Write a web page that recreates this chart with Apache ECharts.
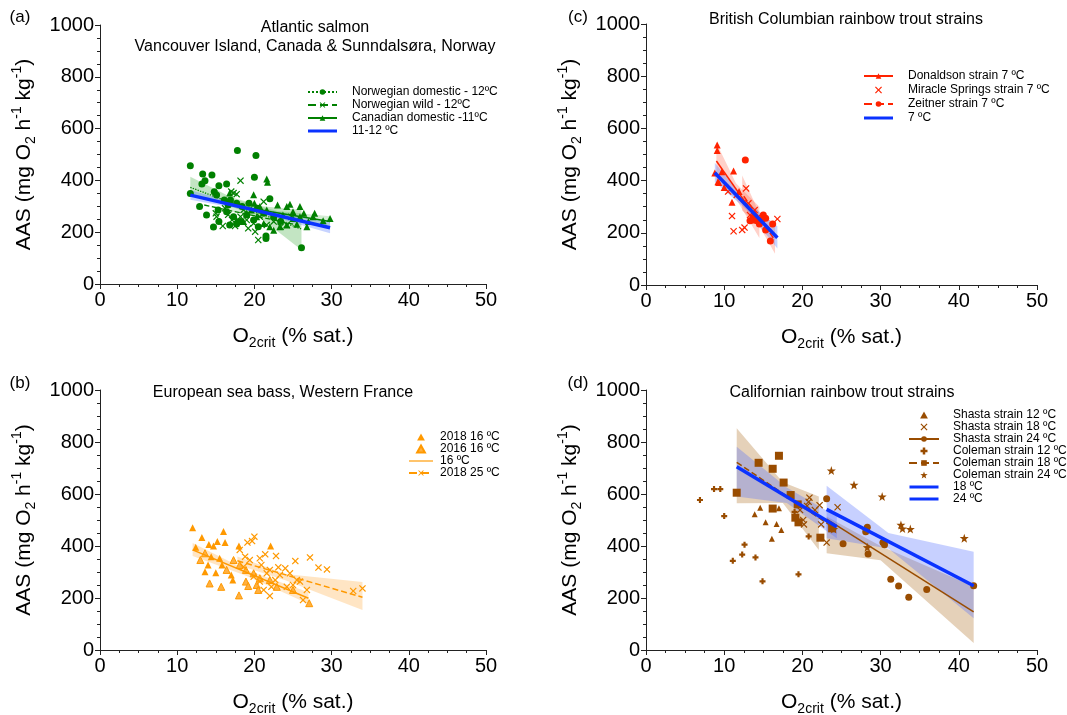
<!DOCTYPE html>
<html><head><meta charset="utf-8">
<script src="https://cdn.jsdelivr.net/npm/echarts@6/dist/echarts.min.js"></script>
<style>html,body{margin:0;padding:0;background:#fff}#c{width:1067px;height:715px}</style>
</head><body><div id="c"></div>
<script>
// ---------- axis ticks ----------
const X_TICKS = [0, 10, 20, 30, 40, 50];
const Y_TICKS = [0, 200, 400, 600, 800, 1000];

// ---------- (a) Atlantic salmon ----------
const A_NOR_DOM = [[17.8,515],[20.2,496],[11.7,457],[13.3,425],[14.5,421],[20.0,412],[13.6,399],[13.2,386],[15.4,379],[16.4,386],[11.7,349],[12.9,299],[13.8,266],[14.7,220],[15.4,241],[21.5,185],[21.5,176],[26.1,140],[22.0,329],[14.8,356],[16.9,324],[16.1,324],[16.6,305],[17.7,312],[15.3,286],[16.4,279],[17.3,260],[18.2,241],[19.0,266],[19.9,247],[20.5,221],[16.8,228],[17.7,232],[15.1,344],[18.4,299],[19.3,312],[20.4,292],[21.2,273],[22.5,260],[23.4,241]];
const A_NOR_WILD = [[18.2,399],[17.0,357],[17.7,347],[15.0,273],[15.1,260],[15.9,224],[17.5,224],[20.1,202],[20.5,170],[21.2,318],[18.2,260],[19.0,247],[19.9,234],[16.6,267],[18.6,286],[21.6,228],[22.5,241],[19.2,215],[17.1,247],[17.3,351],[16.2,292],[20.7,260],[23.4,221],[24.2,228],[24.8,260]];
const A_CAN_DOM = [[21.6,405],[21.7,393],[19.9,345],[20.0,312],[23.0,305],[24.6,308],[24.2,299],[26.4,273],[27.8,273],[29.8,253],[25.9,260],[25.0,279],[23.7,266],[22.5,266],[21.6,286],[20.7,299],[24.2,228],[25.5,231],[26.8,221],[27.0,241],[23.3,221],[22.0,221],[21.2,234],[20.3,260],[19.0,273],[17.7,247],[18.6,241],[25.0,253],[27.6,260],[28.9,244],[25.9,299],[22.5,208],[16.8,351],[19.6,286]];
const A_FIT_NOR_DOM = [[11.7,373],[26.1,212]];
const A_FIT_NOR_WILD = [[13.5,305],[25.5,228]];
const A_FIT_CAN_DOM = [[16.8,305],[29.8,241]];
const A_FIT_ALL = [[11.7,343],[29.8,217]];
const A_BAND_NOR_DOM = [[11.7,345,414],[17,300,335],[21,250,300],[26.1,131,286]];
const A_BAND_CAN = [[16.8,280,330],[23,262,282],[29.8,220,262]];
const A_BAND_ALL = [[11.7,325,362],[20,280,294],[29.8,196,240]];

// ---------- (b) European sea bass ----------
const B_2018_16 = [[12.0,470],[13.2,433],[16.0,456],[15.2,417],[16.2,413],[14.1,406],[14.7,400],[12.4,395],[18.0,400],[22.1,400],[14.4,359],[15.5,353],[14.0,327],[15.8,327],[13.6,301],[15.0,297],[17.0,288],[17.2,269]];
const B_2016_16 = [[14.2,256],[15.7,243],[18.9,263],[19.2,246],[20.3,250],[20.5,231],[18.0,210],[17.3,346],[18.1,327],[18.9,308],[19.9,295],[20.7,276],[22.0,269],[22.9,243],[25.0,231],[27.1,180],[13.6,372],[13.0,346],[16.4,308]];
const B_2018_25 = [[20.0,436],[19.1,413],[19.7,419],[18.1,385],[21.4,368],[22.8,362],[25.3,342],[27.2,356],[28.3,317],[29.4,310],[32.8,227],[34.0,237],[20.7,353],[19.4,346],[18.8,359],[20.9,327],[22.0,308],[23.1,318],[24.0,314],[23.3,288],[21.6,295],[25.5,269],[25.9,263],[25.0,250],[22.2,243],[21.2,231],[22.0,208],[26.3,192],[26.8,231],[24.2,243],[22.7,269],[19.9,282],[18.6,320],[24.6,295],[20.7,263]];
const B_FIT_16 = [[12.0,385],[27.0,199]];
const B_FIT_25 = [[17.8,343],[34.0,203]];
const B_BAND_16 = [[12.0,362,412],[19,285,308],[27.0,178,222]];
const B_BAND_25 = [[17.8,328,360],[24,268,292],[34.0,154,262]];

// ---------- (c) British Columbian rainbow trout ----------
const C_DON = [[9.1,536],[9.1,515],[9.7,434],[11.2,437],[9.3,393],[10.0,374],[11.0,317],[11.9,358],[13.7,249],[13.7,268],[8.8,429],[9.2,396]];
const C_MIR = [[12.8,370],[11.0,264],[11.2,206],[12.3,211],[12.6,220],[10.5,358],[13.1,313],[13.9,287],[16.8,253],[11.6,345],[13.3,268],[14.4,262]];
const C_ZEI = [[12.7,479],[15.0,268],[15.3,256],[16.2,234],[15.3,211],[15.9,169],[14.5,234],[13.3,246],[13.7,258],[14.8,249],[14.2,246]];
const C_FIT_DON = [[9.0,475],[14.5,240]];
const C_FIT_ZEI = [[12.5,340],[16.3,180]];
const C_FIT_ALL = [[8.8,430],[16.8,181]];
const C_BAND_DON = [[9.0,400,545],[11.5,330,390],[14.5,180,300]];
const C_BAND_ZEI = [[12.3,285,420],[14.5,225,275],[16.5,120,235]];
const C_BAND_ALL = [[8.8,395,468],[12.8,290,322],[16.8,140,225]];

// ---------- (d) Californian rainbow trout ----------
const D_SH12 = [[14.6,547],[13.9,522],[15.3,491],[16.7,485],[17.3,462],[16.1,428],[17.0,545]];
const D_SH18 = [[20.9,586],[20.8,570],[22.2,557],[21.6,538],[20.1,500],[20.2,483],[22.4,483],[23.1,413],[24.5,549],[20.6,554],[19.7,538]];
const D_SH24 = [[23.1,582],[25.2,409],[28.3,472],[28.1,455],[30.3,413],[30.5,405],[31.3,272],[32.3,246],[33.6,203],[35.9,233],[28.4,369],[41.9,247]];
const D_CO12 = [[6.9,577],[8.7,619],[9.5,619],[10.0,515],[12.6,405],[12.3,367],[11.1,343],[14.0,356],[14.9,264],[19.5,291],[20.8,437],[19.0,531]];
const D_CO18 = [[14.4,720],[17.0,747],[16.2,697],[17.6,644],[11.6,605],[18.5,596],[16.2,544],[19.4,560],[19.1,509],[19.5,491],[22.3,432],[23.8,468]];
const D_CO24 = [[23.7,690],[26.6,635],[30.2,590],[32.6,481],[32.8,467],[33.8,465],[40.7,430],[28.3,395],[24.0,465]];
const D_FIT_18 = [[11.6,705],[24.4,474]];
const D_FIT_24 = [[23.1,541],[41.9,247]];
const D_FIT_SH24 = [[23.1,503],[41.9,147]];
const D_FIT_CO18 = [[11.6,722],[24.0,470]];
const D_BAND_CO18 = [[11.6,564,853],[17.5,565,645],[22.1,385,590]];
const D_BAND_SH24 = [[23.1,372,513],[30,345,400],[41.9,27,244]];
const D_BAND_18 = [[11.6,590,782],[18,565,625],[24.4,430,513]];
const D_BAND_24 = [[23.1,430,632],[31,390,450],[41.9,122,378]];

// ---------- styling ----------
const FONT = '"Liberation Sans", Arial, Helvetica, sans-serif';
const GREEN = '#008000', BLUE = '#0A32FF', RED = '#FF2200', ORANGE = '#FF9900', BROWN = '#994C00';
const CROSS = 'path://M1.2,0L5,3.8L8.8,0L10,1.2L6.2,5L10,8.8L8.8,10L5,6.2L1.2,10L0,8.8L3.8,5L0,1.2Z';
const STAR = 'path://M5,0L6.2,3.5L10,3.6L7,5.9L8.1,9.5L5,7.4L1.9,9.5L3,5.9L0,3.6L3.8,3.5Z';
const PLUS = 'path://M3.2,0H6.8V3.2H10V6.8H6.8V10H3.2V6.8H0V3.2H3.2Z';
const TRI = 'path://M5,0L10,9H0Z';
const THICK_ICON = 'path://M0,0M29,7M0,2H29V5H0Z';
const THIN_ICON = 'path://M0,0M29,7M0,2.8H29V4.2H0Z';

const grids = [
  {left: 100, top: 25, width: 386, height: 259},
  {left: 646, top: 24, width: 391, height: 261},
  {left: 100, top: 390, width: 386, height: 260},
  {left: 646, top: 390, width: 391, height: 260}
];

const nameRich = {
  t: {fontSize: 21, lineHeight: 28, fontFamily: FONT, color: '#000'},
  sb: {fontSize: 14, lineHeight: 14, verticalAlign: 'bottom', fontFamily: FONT, color: '#000'},
  sp: {fontSize: 14, lineHeight: 14, verticalAlign: 'top', fontFamily: FONT, color: '#000'}
};

function xAxis(i) {
  return {
    type: 'value', gridIndex: i, min: X_TICKS[0], max: X_TICKS[X_TICKS.length - 1],
    interval: X_TICKS[1] - X_TICKS[0],
    name: '{t|O}{sb|2crit}{t| (% sat.)}', nameLocation: 'middle', nameGap: 38,
    nameTextStyle: {rich: nameRich},
    axisLine: {show: true, onZero: false, lineStyle: {color: '#222', width: 1}},
    axisTick: {show: true, length: 5, lineStyle: {color: '#222'}},
    minorTick: {show: true, splitNumber: 4, length: 3, lineStyle: {color: '#222'}},
    splitLine: {show: false}, minorSplitLine: {show: false},
    axisLabel: {fontSize: 20, color: '#000', fontFamily: FONT, margin: 6, formatter: v => String(v)}
  };
}
function yAxis(i) {
  return {
    type: 'value', gridIndex: i, min: Y_TICKS[0], max: Y_TICKS[Y_TICKS.length - 1],
    interval: Y_TICKS[1] - Y_TICKS[0],
    name: '{t|AAS (mg O}{sb|2}{t| h}{sp|-1}{t| kg}{sp|-1}{t|)}', nameLocation: 'middle', nameGap: 62, nameRotate: 90,
    nameTextStyle: {rich: nameRich},
    axisLine: {show: true, onZero: false, lineStyle: {color: '#222', width: 1}},
    axisTick: {show: true, length: 5, lineStyle: {color: '#222'}},
    minorTick: {show: true, splitNumber: 4, length: 3, lineStyle: {color: '#222'}},
    splitLine: {show: false}, minorSplitLine: {show: false},
    axisLabel: {fontSize: 20, color: '#000', fontFamily: FONT, margin: 6, formatter: v => String(v)}
  };
}

function band(ax, arr, fill) {
  return {
    type: 'custom', xAxisIndex: ax, yAxisIndex: ax, silent: true, z: 1,
    data: arr, encode: {x: 0, y: [1, 2]},
    renderItem: function (params, api) {
      if (params.dataIndexInside !== 0) return;
      const pts = [];
      for (let i = 0; i < arr.length; i++) pts.push(api.coord([arr[i][0], arr[i][2]]));
      for (let i = arr.length - 1; i >= 0; i--) pts.push(api.coord([arr[i][0], arr[i][1]]));
      return {type: 'polygon', shape: {points: pts}, style: {fill: fill}};
    }
  };
}
function scat(ax, name, arr, symbol, size, color, border) {
  return {
    type: 'scatter', name: name, xAxisIndex: ax, yAxisIndex: ax, data: arr, symbol: symbol,
    symbolSize: size, silent: true, z: 3,
    itemStyle: border ? {color: color, borderColor: border, borderWidth: 1, opacity: 1} : {color: color, opacity: 1}
  };
}
function fit(ax, name, arr, color, width, type, symbol) {
  return {
    type: 'line', name: name, xAxisIndex: ax, yAxisIndex: ax, data: arr,
    symbol: symbol || 'none', showSymbol: false, silent: true, z: 4,
    itemStyle: {color: color},
    lineStyle: {color: color, width: width, type: type || 'solid'}
  };
}

const series = [
  // (a)
  band(0, A_BAND_NOR_DOM, 'rgba(40,160,40,0.28)'),
  band(0, A_BAND_CAN, 'rgba(40,160,40,0.2)'),
  band(0, A_BAND_ALL, 'rgba(70,110,255,0.3)'),
  scat(0, 'Norwegian domestic pts', A_NOR_DOM, 'circle', 7, GREEN),
  scat(0, 'Norwegian wild pts', A_NOR_WILD, CROSS, 7, GREEN),
  scat(0, 'Canadian domestic pts', A_CAN_DOM, TRI, 7, GREEN),
  fit(0, 'Norwegian domestic - 12ºC', A_FIT_NOR_DOM, GREEN, 1.3, 'dotted', 'circle'),
  fit(0, 'Norwegian wild - 12ºC', A_FIT_NOR_WILD, GREEN, 1.3, 'dashed', CROSS),
  fit(0, 'Canadian domestic -11ºC', A_FIT_CAN_DOM, GREEN, 1.5, 'solid', TRI),
  fit(0, '11-12 ºC', A_FIT_ALL, BLUE, 3.5),
  // (c)
  band(1, C_BAND_DON, 'rgba(255,90,60,0.28)'),
  band(1, C_BAND_ZEI, 'rgba(255,90,60,0.28)'),
  band(1, C_BAND_ALL, 'rgba(70,110,255,0.3)'),
  scat(1, 'Donaldson pts', C_DON, TRI, 7, RED),
  scat(1, 'Miracle Springs strain 7 ºC', C_MIR, CROSS, 7, RED),
  scat(1, 'Zeitner pts', C_ZEI, 'circle', 7, RED),
  fit(1, 'Donaldson strain 7 ºC', C_FIT_DON, RED, 1.5, 'solid', TRI),
  fit(1, 'Zeitner strain 7 ºC', C_FIT_ZEI, RED, 1.5, 'dashed', 'circle'),
  fit(1, '7 ºC', C_FIT_ALL, BLUE, 3.5),
  // (b)
  band(2, B_BAND_16, 'rgba(255,170,60,0.3)'),
  band(2, B_BAND_25, 'rgba(255,170,60,0.3)'),
  scat(2, '2018 16 ºC', B_2018_16, TRI, 7, ORANGE),
  scat(2, '2016 16 ºC', B_2016_16, TRI, 7, '#FFB040', ORANGE),
  scat(2, '2018 25 pts', B_2018_25, CROSS, 7, ORANGE),
  fit(2, '16 ºC', B_FIT_16, ORANGE, 1.5),
  fit(2, '2018 25 ºC', B_FIT_25, ORANGE, 1.5, 'dashed', CROSS),
  // (d)
  band(3, D_BAND_CO18, 'rgba(190,140,80,0.4)'),
  band(3, D_BAND_SH24, 'rgba(190,140,80,0.4)'),
  band(3, D_BAND_18, 'rgba(80,110,255,0.32)'),
  band(3, D_BAND_24, 'rgba(80,110,255,0.32)'),
  scat(3, 'Shasta strain 12 ºC', D_SH12, TRI, 6, BROWN),
  scat(3, 'Shasta strain 18 ºC', D_SH18, CROSS, 7, BROWN),
  scat(3, 'Shasta 24 pts', D_SH24, 'circle', 7, BROWN),
  scat(3, 'Coleman strain 12 ºC', D_CO12, PLUS, 6, BROWN),
  scat(3, 'Coleman 18 pts', D_CO18, 'rect', 8, BROWN),
  scat(3, 'Coleman strain 24 ºC', D_CO24, STAR, 9, BROWN),
  fit(3, 'Shasta strain 24 ºC', D_FIT_SH24, BROWN, 1.5, 'solid', 'circle'),
  fit(3, 'Coleman strain 18 ºC', D_FIT_CO18, BROWN, 1.5, 'dashed', 'rect'),
  fit(3, '18 ºC', D_FIT_18, BLUE, 3.5),
  fit(3, '24 ºC', D_FIT_24, BLUE, 3.5)
];

function legend(left, top, gap, itemWidth, pad, data) {
  return {
    orient: 'vertical', left: left, top: top, itemGap: gap, itemWidth: itemWidth, itemHeight: 7,
    selectedMode: false, padding: 0, data: data, symbolKeepAspect: true,
    textStyle: {fontSize: 12, lineHeight: 12, color: '#000', fontFamily: FONT, padding: [0, 0, 0, pad]}
  };
}

const texts = [
  ['(a)', 20, 17, 17], ['(c)', 578, 17, 17], ['(b)', 20, 383, 17], ['(d)', 578, 383, 17],
  ['Atlantic salmon', 315, 28, 16], ['Vancouver Island, Canada & Sunndalsøra, Norway', 315, 47, 16],
  ['British Columbian rainbow trout strains', 846, 20, 16],
  ['European sea bass, Western France', 283, 393, 16],
  ['Californian rainbow trout strains', 842, 393, 16]
];

const chart = echarts.init(document.getElementById('c'), null, {renderer: 'canvas'});
chart.setOption({
  animation: false,
  backgroundColor: '#fff',
  grid: grids.map(g => Object.assign({outerBoundsMode: 'none', containLabel: false}, g)),
  xAxis: [0, 1, 2, 3].map(xAxis),
  yAxis: [0, 1, 2, 3].map(yAxis),
  legend: [
    legend(307, 86, 1, 29, 10, ['Norwegian domestic - 12ºC', 'Norwegian wild - 12ºC', 'Canadian domestic -11ºC', {name: '11-12 ºC', icon: THICK_ICON}]),
    legend(863, 70, 2, 29, 10, ['Donaldson strain 7 ºC', 'Miracle Springs strain 7 ºC', 'Zeitner strain 7 ºC', {name: '7 ºC', icon: THICK_ICON}]),
    legend(408, 431, 0, 24, 2, ['2018 16 ºC', '2016 16 ºC', {name: '16 ºC', icon: THIN_ICON}, '2018 25 ºC']),
    legend(908, 409, 0, 30, 9, ['Shasta strain 12 ºC', 'Shasta strain 18 ºC', 'Shasta strain 24 ºC', 'Coleman strain 12 ºC', 'Coleman strain 18 ºC', 'Coleman strain 24 ºC', {name: '18 ºC', icon: THICK_ICON}, {name: '24 ºC', icon: THICK_ICON}])
  ],
  graphic: texts.map(t => ({
    type: 'text', x: t[1], y: t[2], silent: true,
    style: {text: t[0], fill: '#000', font: t[3] + 'px ' + FONT, align: 'center', verticalAlign: 'middle'}
  })),
  series: series
});
</script>
</body></html>
